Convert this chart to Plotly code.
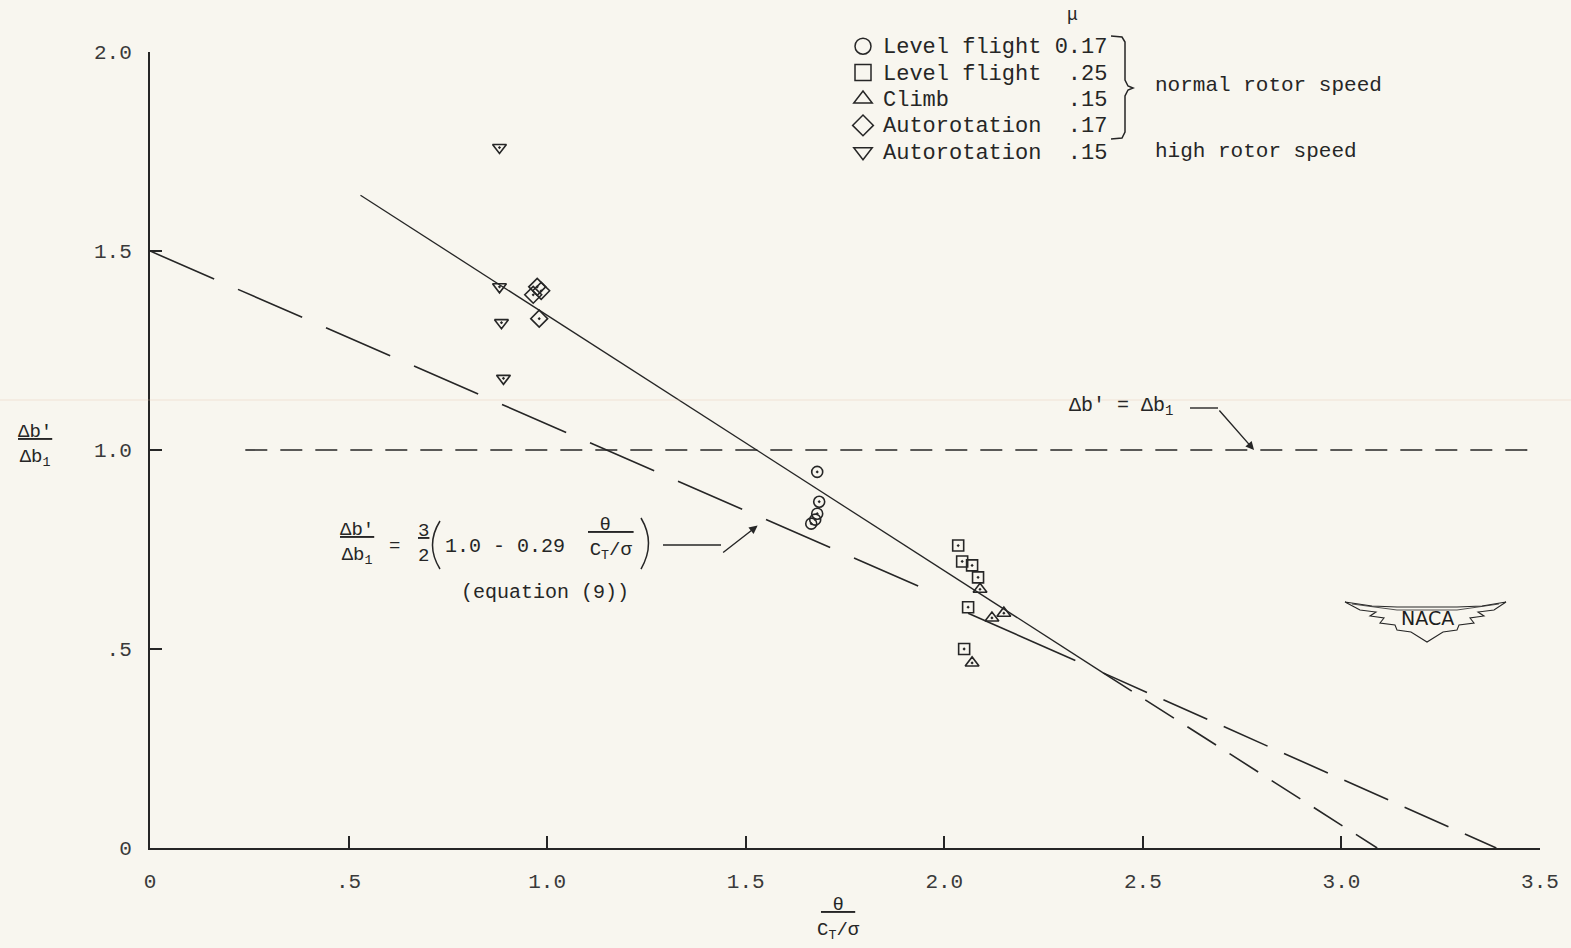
import plotly.graph_objects as go

# ---------------- data ----------------
# Level flight, mu = 0.17 (circles)
lf17_x = [1.68, 1.685, 1.68, 1.675, 1.665]
lf17_y = [0.945, 0.87, 0.84, 0.825, 0.815]
# Level flight, mu = .25 (squares)
lf25_x = [2.035, 2.045, 2.07, 2.085, 2.06, 2.05]
lf25_y = [0.76, 0.72, 0.71, 0.68, 0.605, 0.50]
# Climb, mu = .15 (triangles up)
climb_x = [2.09, 2.12, 2.15, 2.07]
climb_y = [0.65, 0.578, 0.59, 0.465]
# Autorotation, mu = .17 (diamonds)
auto17_x = [0.975, 0.985, 0.965, 0.98]
auto17_y = [1.41, 1.40, 1.39, 1.33]
# Autorotation, mu = .15, high rotor speed (triangles down)
auto15_x = [0.88, 0.88, 0.885, 0.89]
auto15_y = [1.76, 1.41, 1.32, 1.18]

# Faired / reference lines (end points)
eq9_x = [0.0, 1.94]
eq9_y = [1.5, 0.656]
steep_solid_x = [0.53, 2.40]
steep_solid_y = [1.64, 0.44]
steep_dash_x = [2.40, 3.09]
steep_dash_y = [0.44, 0.0]
shallow_solid_x = [2.06, 2.33]
shallow_solid_y = [0.59, 0.471]
shallow_dash_x = [2.40, 3.39]
shallow_dash_y = [0.44, 0.0]
unity_x = [0.24, 3.49]
unity_y = [1.0, 1.0]

x_ticks = [0, 0.5, 1.0, 1.5, 2.0, 2.5, 3.0, 3.5]
x_tick_labels = ["0", ".5", "1.0", "1.5", "2.0", "2.5", "3.0", "3.5"]
y_ticks = [0, 0.5, 1.0, 1.5, 2.0]
y_tick_labels = ["0", ".5", "1.0", "1.5", "2.0"]

NB = "\u00a0"
legend_names = ["Level flight 0.17", "Level flight" + NB * 2 + ".25",
                "Climb" + NB * 9 + ".15",
                "Autorotation" + NB * 2 + ".17", "Autorotation" + NB * 2 + ".15"]

# ---------------- styling ----------------
W, H = 1571, 948
ML, MR, MT, MB = 150, 31, 52, 100
PW, PH = W - ML - MR, H - MT - MB
INK = "#262626"
FONT = "Liberation Mono, Courier New, monospace"
BG = "#f8f6ef"


def px(xp):
    return (xp - ML) / PW


def py(yp):
    return (H - MB - yp) / PH


fig = go.Figure()

line_specs = [
    (eq9_x, eq9_y, "70px,26px", 1.6),
    (steep_solid_x, steep_solid_y, "solid", 1.3),
    (steep_dash_x, steep_dash_y, "34px,16px", 1.6),
    (shallow_solid_x, shallow_solid_y, "solid", 1.6),
    (shallow_dash_x, shallow_dash_y, "48px,18px", 1.6),
    (unity_x, unity_y, "22px,13px", 1.6),
]
for lx, ly, dash, w in line_specs:
    fig.add_trace(go.Scatter(x=lx, y=ly, mode="lines", showlegend=False,
                             hoverinfo="skip",
                             line=dict(color=INK, width=w, dash=dash)))

series = [
    (lf17_x, lf17_y, "circle", 11),
    (lf25_x, lf25_y, "square", 11),
    (climb_x, climb_y, "triangle-up", 12),
    (auto17_x, auto17_y, "diamond", 13),
    (auto15_x, auto15_y, "triangle-down", 12),
]
for (sx, sy, sym, size), name in zip(series, legend_names):
    fig.add_trace(go.Scatter(x=sx, y=sy, mode="markers", showlegend=False,
                             name=name,
                             marker=dict(symbol=sym + "-open-dot", size=size,
                                         color=INK, line=dict(width=1.6, color=INK))))
    # key entry (symbol without centre dot, as in the key)
    fig.add_trace(go.Scatter(x=[None], y=[None], mode="markers",
                             name="<span style='font-size:22px'>" + name + "</span>",
                             marker=dict(symbol=sym + "-open", size=16,
                                         color=INK, line=dict(width=1.5, color=INK))))

ann = []


def text(xp, yp, t, size=20, xanchor="center", **kw):
    ann.append(dict(x=px(xp), y=py(yp), xref="paper", yref="paper", text=t,
                    showarrow=False, xanchor=xanchor, yanchor="middle",
                    font=dict(family=FONT, size=size, color=INK), **kw))


# key extras
text(1072, 15, "\u03bc", 18)
text(1153, 85, "normal rotor speed", 21, xanchor="left")
text(1153, 151, "high rotor speed", 21, xanchor="left")

# axis titles
text(35, 445, "<u>\u0394b'</u><br>\u0394b<sub>1</sub>", 19)
text(838, 918, "<u>" + NB + "\u03b8" + NB + "</u><br>C<sub>T</sub>/\u03c3", 19)

# equation annotation
text(357, 543, "<u>\u0394b'</u><br>\u0394b<sub>1</sub>", 19)
text(394, 546, "=", 19)
text(423, 543, "<u>3</u><br>2", 19)
text(505, 546, "1.0 - 0.29", 20)
text(611, 538, "<u>" + NB + "\u03b8" + NB * 2 + "</u><br>C<sub>T</sub>/\u03c3", 19)
text(545, 593, "(equation (9))", 20)

# unity label
text(1121, 406, "\u0394b' = \u0394b<sub>1</sub>", 20)

# NACA logo text
ann.append(dict(x=px(1427), y=py(618), xref="paper", yref="paper", text="NACA",
                showarrow=False, xanchor="center", yanchor="middle",
                font=dict(family="DejaVu Sans, Arial", size=19, color="#1e1e1e")))

# arrows
ann.append(dict(x=2.78, y=1.0, xref="x", yref="y", ax=-36, ay=-41, text="",
                showarrow=True, arrowhead=2, arrowsize=1.2, arrowwidth=1.4, arrowcolor=INK))
ann.append(dict(x=1.53, y=0.81, xref="x", yref="y", ax=-36, ay=28, text="",
                showarrow=True, arrowhead=2, arrowsize=1.2, arrowwidth=1.4, arrowcolor=INK))

shapes = []


def seg(x0, y0, x1, y1, w=1.4, color=INK):
    shapes.append(dict(type="line", xref="paper", yref="paper",
                       x0=px(x0), y0=py(y0), x1=px(x1), y1=py(y1),
                       line=dict(color=color, width=w)))


def path(d_px, w=1.3):
    parts = []
    for cmd, pts in d_px:
        parts.append(cmd + " " + " ".join(f"{px(a):.5f},{py(b):.5f}" for a, b in pts))
    shapes.append(dict(type="path", xref="paper", yref="paper", path=" ".join(parts),
                       line=dict(color=INK, width=w)))


def poly(points, w=1.3, closed=False):
    d = [("M", [points[0]])] + [("L", [p]) for p in points[1:]]
    if closed:
        d.append(("Z", []))
    path(d, w)


# leaders
seg(1190, 408, 1218, 408)
seg(663, 545, 721, 545)

# big parentheses of the equation
path([("M", [(440, 521)]), ("Q", [(425, 545), (440, 569)])], w=1.5)
path([("M", [(641, 518)]), ("Q", [(656, 543), (641, 569)])], w=1.5)

# brace in the key
poly([(1111, 36), (1122, 37), (1125, 42), (1125, 80), (1128, 86), (1133, 88),
      (1128, 90), (1125, 96), (1125, 132), (1122, 138), (1111, 139)], w=1.5)

# NACA wings
poly([(1345, 602), (1372, 606), (1397, 607), (1457, 607), (1482, 606), (1506, 602),
      (1494, 610), (1478, 612), (1484, 616), (1470, 618), (1474, 623), (1459, 625),
      (1457, 630), (1443, 632), (1427, 642), (1411, 632), (1397, 630), (1395, 625),
      (1380, 623), (1384, 618), (1370, 616), (1376, 612), (1360, 610)], w=1.1, closed=True)
poly([(1352, 604), (1397, 610), (1457, 610), (1499, 604)], w=0.8)

# faint scan crease
seg(0, 400, 1571, 400, w=1.2, color="rgba(225,190,170,0.35)")

fig.update_layout(
    width=W, height=H,
    margin=dict(l=ML, r=MR, t=MT, b=MB),
    paper_bgcolor=BG, plot_bgcolor=BG,
    font=dict(family=FONT, size=21, color=INK),
    showlegend=True,
    legend=dict(x=px(843), y=py(28), xanchor="left", yanchor="top",
                bgcolor="rgba(0,0,0,0)", borderwidth=0,
                font=dict(family=FONT, size=18, color=INK),
                itemclick=False, itemdoubleclick=False),
    annotations=ann, shapes=shapes,
    xaxis=dict(range=[0, 3.5], tickvals=x_ticks, ticktext=x_tick_labels,
               showline=True, linecolor=INK, linewidth=2, ticks="inside",
               ticklen=12, tickwidth=2, tickcolor=INK, showgrid=False,
               zeroline=False, ticklabelstandoff=13,
               tickfont=dict(family=FONT, size=21, color="#3a3a3a")),
    yaxis=dict(range=[0, 2.0], tickvals=y_ticks, ticktext=y_tick_labels,
               showline=True, linecolor=INK, linewidth=2, ticks="inside",
               ticklen=12, tickwidth=2, tickcolor=INK, showgrid=False,
               zeroline=False, ticklabelstandoff=12,
               tickfont=dict(family=FONT, size=21, color="#3a3a3a")),
)

fig.write_html("out.html",
               config={"displayModeBar": False},
               post_script="document.body.style.margin='0';"
                           "document.body.style.background='%s';" % BG)
